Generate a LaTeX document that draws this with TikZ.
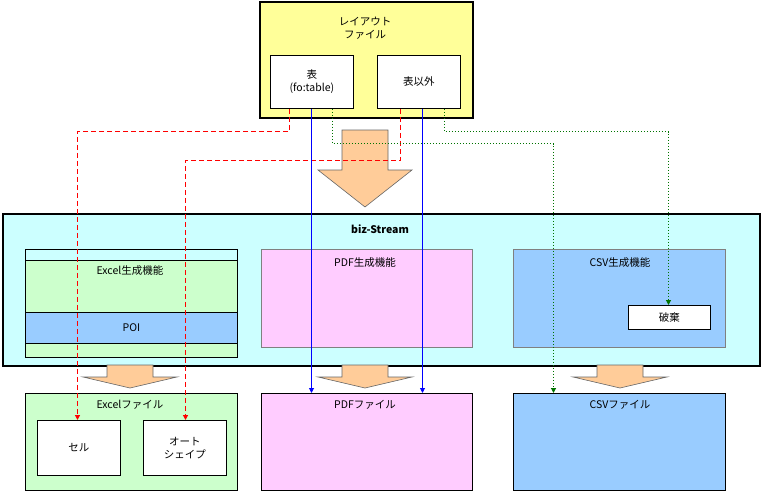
\documentclass[tikz,border=0pt]{standalone}
\usepackage{fontspec}
\setmainfont{Noto Sans CJK JP}
\usetikzlibrary{arrows.meta,positioning}
\tikzset{
    >={Triangle[length=5pt,width=5pt]},
    txt/.style={font=\fontsize{10.5pt}{13pt}\selectfont, align=center},
    box/.style={
           txt, draw=black, anchor=north west,
           inner sep=0pt},
    outer/.style={box, line width=1.6pt},
    inner/.style={box, fill=white, line width=0.8pt},
    bigarrow/.style={draw=black!60, line width=0.6pt},
    redpil/.style={->, red, dash pattern=on 5pt off 3pt, line width=1.4pt},
    greenpil/.style={->, green!45!black, dash pattern=on 1.5pt off 1.5pt, line width=1.2pt},
    bluepil/.style={->, blue, line width=0.9pt}
}
\definecolor{lyellow}{HTML}{FFFF99}
\definecolor{lcyan}{HTML}{CCFFFF}
\definecolor{lgreen}{HTML}{CCFFCC}
\definecolor{lpink}{HTML}{FFCCFF}
\definecolor{lblue}{HTML}{99CCFF}
\definecolor{larrow}{HTML}{FFCC99}
\begin{document}
\begin{tikzpicture}[x=1pt,y=-1pt]
          \useasboundingbox (0,0) rectangle (761,495);
          % layout file
          \node[outer, fill=lyellow, minimum width=213pt, minimum height=116pt] (layout) at (259,1) {};
          \node[txt] (layouttxt) at (365,28) {レイアウト\\ファイル};
          \node[inner, minimum width=83pt, minimum height=53pt] (tbl) at (270,55) {表\\(fo:table)};
          \node[inner, minimum width=83pt, minimum height=53pt] (other) at (377,55) {表以外};
          % big arrow
          \draw[bigarrow, fill=larrow] (342,130) -- (388,130) -- (388,170) -- (412,170) -- (365,207) -- (318,170) -- (342,170) -- cycle;
          % biz-Stream
          \node[outer, fill=lcyan, minimum width=757pt, minimum height=152pt] (biz) at (2,213) {};
          \node[txt, font=\bfseries\fontsize{10.5pt}{13pt}\selectfont] (biztxt) at (380,229) {biz-Stream};
          \node[outer, fill=lgreen, minimum width=212pt, minimum height=108pt, line width=1pt] (excel) at (25,249) {};
          \fill[lcyan] (25.5,249.5) rectangle (236.5,260);
          \draw[line width=1pt] (25,260) -- (237,260);
          \node[box, fill=lblue, line width=1pt, minimum width=212pt, minimum height=31pt] (poi) at (25,312) {POI};
          \node[txt] (exceltxt) at (130,271) {Excel生成機能};
          \node[box, fill=lpink, draw=black!50, minimum width=211pt, minimum height=98pt] (pdf) at (261,249) {};
          \node[txt] (pdftxt) at (365,263) {PDF生成機能};
          \node[box, fill=lblue, draw=black!50, minimum width=212pt, minimum height=98pt] (csv) at (513,249) {};
          \node[txt] (csvtxt) at (620,263) {CSV生成機能};
          \node[inner, minimum width=82pt, minimum height=24pt] (discard) at (628,305) {破棄};
          % small arrows
          \foreach \cx in {130,365,620}
            \draw[bigarrow, fill=larrow] (\cx-23,365) -- (\cx+23,365) -- (\cx+23,377) -- (\cx+47,377) -- (\cx,388) -- (\cx-47,377) -- (\cx-23,377) -- cycle;
          % output files
          \node[outer, fill=lgreen, line width=1.2pt, minimum width=212pt, minimum height=97pt] (xlsfile) at (25,393) {};
          \node[txt] (xlstxt) at (130,405) {Excelファイル};
          \node[inner, minimum width=83pt, minimum height=55pt] (cell) at (37,420) {セル};
          \node[inner, minimum width=83pt, minimum height=55pt] (shape) at (143,420) {オート\\シェイプ};
          \node[outer, fill=lpink, line width=1.2pt, minimum width=211pt, minimum height=97pt] (pdffile) at (261,393) {};
          \node[txt] (pdffiletxt) at (365,405) {PDFファイル};
          \node[outer, fill=lblue, line width=1.2pt, minimum width=212pt, minimum height=97pt] (csvfile) at (513,393) {};
          \node[txt] (csvfiletxt) at (620,405) {CSVファイル};
          % connectors
          \coordinate (r1) at (289.5,131.5);
          \coordinate (r2) at (400.5,160.5);
          \coordinate (g1) at (332.5,143.5);
          \coordinate (g2) at (444.5,131.5);
          \draw[redpil] (tbl.south -| r1) -- (r1) -| (cell.north -| 77.5,0);
          \draw[redpil] (other.south -| r2) -- (r2) -| (shape.north -| 185.5,0);
          \draw[greenpil] (tbl.south -| g1) -- (g1) -| (csvfile.north -| 553.5,0);
          \draw[greenpil] (other.south -| g2) -- (g2) -| (discard.north -| 668.5,0);
          \draw[bluepil] (tbl.south -| 311.5,0) -- (pdffile.north -| 311.5,0);
          \draw[bluepil] (other.south -| 422.5,0) -- (pdffile.north -| 422.5,0);
\end{tikzpicture}
\end{document}
